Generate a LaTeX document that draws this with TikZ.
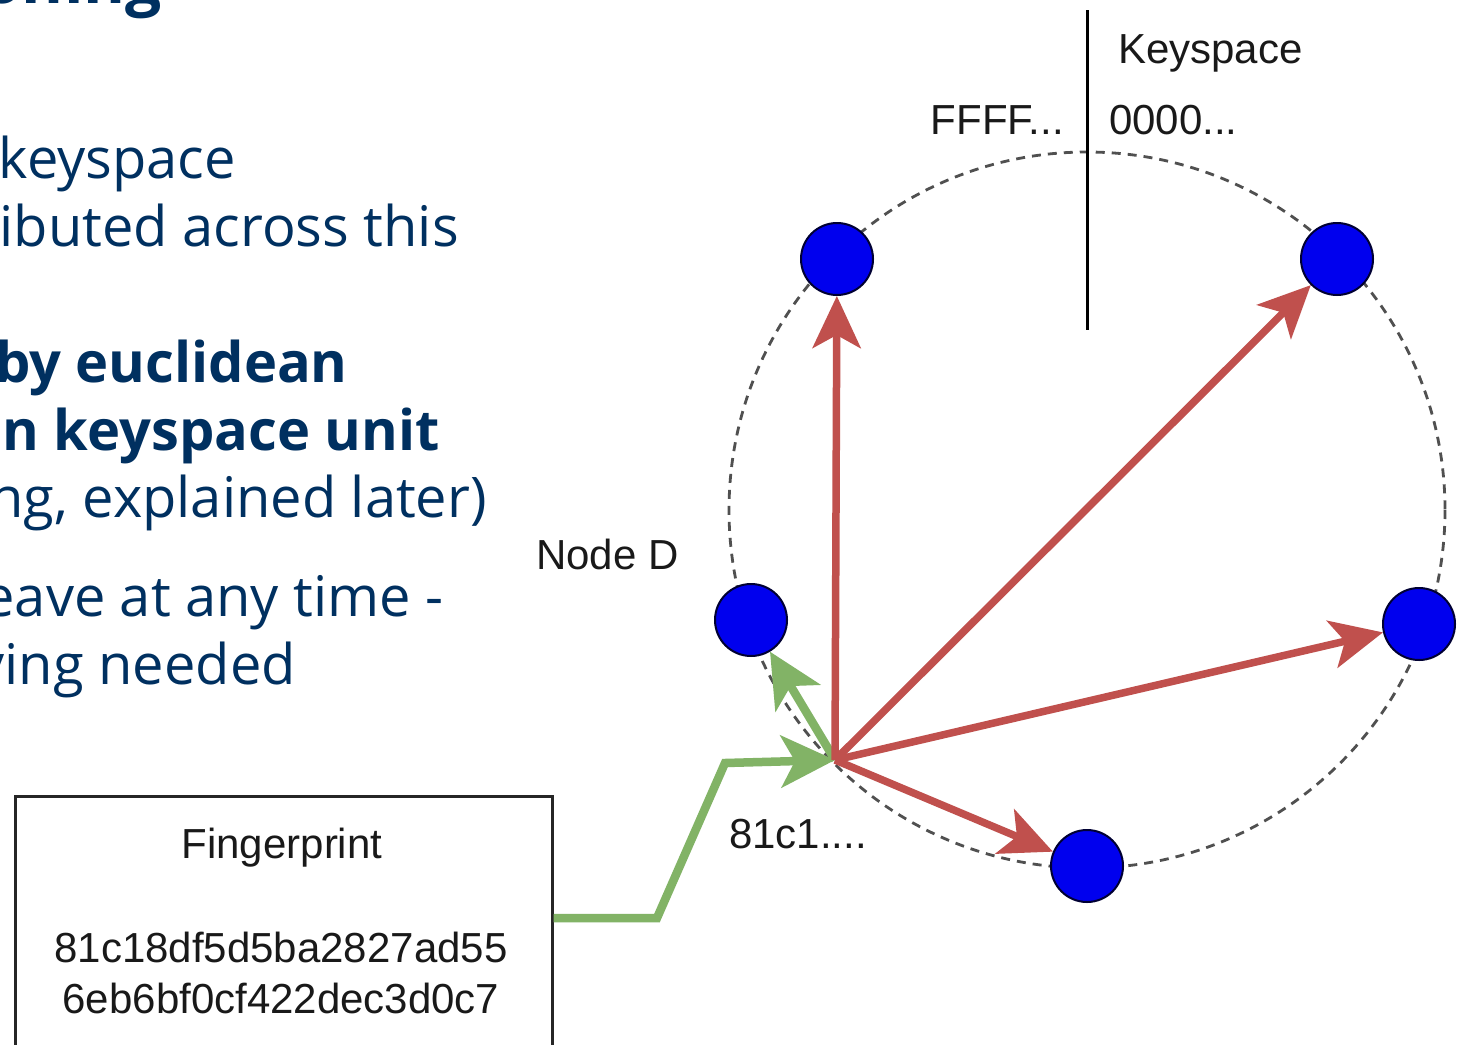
\documentclass[tikz,border=0pt]{standalone}
\usepackage{fontspec}
\setmainfont{Liberation Sans}
\newfontfamily\osans{Open Sans}
\usetikzlibrary{arrows.meta}
\definecolor{navy}{RGB}{0,48,96}
\definecolor{redarr}{RGB}{192,80,77}
\definecolor{greenarr}{RGB}{130,179,102}
\definecolor{ringgray}{RGB}{80,80,80}
\definecolor{nodeblue}{RGB}{0,0,238}
\definecolor{txtgray}{RGB}{25,25,25}
\begin{document}
\begin{tikzpicture}[x=1pt,y=-1pt,
  ring/.style={draw=ringgray, line width=2.8pt, dash pattern=on 9pt off 7pt},
  knode/.style={circle, fill=nodeblue, draw=black!80!blue, line width=2pt, minimum size=72pt, inner sep=0pt},
  redarrow/.style={draw=redarr, line width=7.5pt, -{Stealth[length=52pt,width=48pt,inset=13pt]}},
  greenarrow/.style={draw=greenarr, line width=8.5pt, -{Stealth[length=54pt,width=52pt,inset=14pt]}},
  lbl/.style={font=\fontsize{42}{50}\selectfont, text=txtgray, inner sep=0pt},
  body/.style={font=\osans\fontsize{56}{68}\selectfont, text=navy, inner sep=0pt, anchor=base east},
  bodyb/.style={body, font=\osans\bfseries\fontsize{56}{68}\selectfont},
  fpbox/.style={draw=black!85, line width=3pt, minimum width=537pt, minimum height=320pt, inner sep=0pt}
]
\useasboundingbox (0,0) rectangle (1463,1044);
\clip (0,0) rectangle (1463,1044);
\fill[white] (0,0) rectangle (1463,1044);

% left slide text (cut off)
\node[bodyb, font=\osans\bfseries\fontsize{64}{76}\selectfont] (title) at (162,3) {ioning};
\node[body] (t1) at (236,178) {keyspace};
\node[body] (t2) at (459,246) {ibuted across this};
\node[bodyb] (t3) at (348,382) {by euclidean};
\node[bodyb] (t4) at (440,450) {n keyspace unit};
\node[body] (t5) at (487,517) {ng, explained later)};
\node[body] (t6) at (444,616) {eave at any time -};
\node[body] (t7) at (296,684) {ving needed};

% ring
\draw[ring] (1087,510) circle[radius=358];
\coordinate (vtop) at (1087,10);
\coordinate (vbot) at (1087,330);
\draw[black, line width=3pt] (vtop) -- (vbot);

\node[lbl, anchor=base west] (ks) at (1118,63) {Keyspace};
\node[lbl, anchor=base east] (ff) at (1064,134) {FFFF...};
\node[lbl, anchor=base west] (zz) at (1109,134) {0000...};
\node[lbl, anchor=base west] (nd) at (536,569) {Node D};
\node[lbl, anchor=base west] (hc) at (729,848) {81c1....};

% fingerprint box
\node[fpbox] (fp) at (283.5,956) {};
\node[lbl] (fpt) at (282,848) {Fingerprint};
\node[lbl, anchor=base] (fp1) at (281,962) {81c18df5d5ba2827ad55};
\node[lbl, anchor=base] (fp2) at (281,1013) {6eb6bf0cf422dec3d0c7};

% nodes
\coordinate (src) at (835,760);
\node[knode] (nA) at (837,259) {};
\node[knode] (nB) at (1337,259) {};
\node[knode] (nD) at (751,620) {};
\node[knode] (nE) at (1419,624) {};
\node[knode] (nC) at (1087,866) {};

% green connectors
\coordinate (g1) at (657,918);
\coordinate (g2) at (725,763);
\draw[greenarrow, line join=miter] (fp.east |- g1) -- (g1) -- (g2) -- (src);
\draw[greenarrow] (src) -- (nD);

% red arrows
\draw[redarrow] (src) -- (nA);
\draw[redarrow] (src) -- (nB);
\draw[redarrow] (src) -- (nE);
\draw[redarrow] (src) -- (nC);
\end{tikzpicture}
\end{document}
